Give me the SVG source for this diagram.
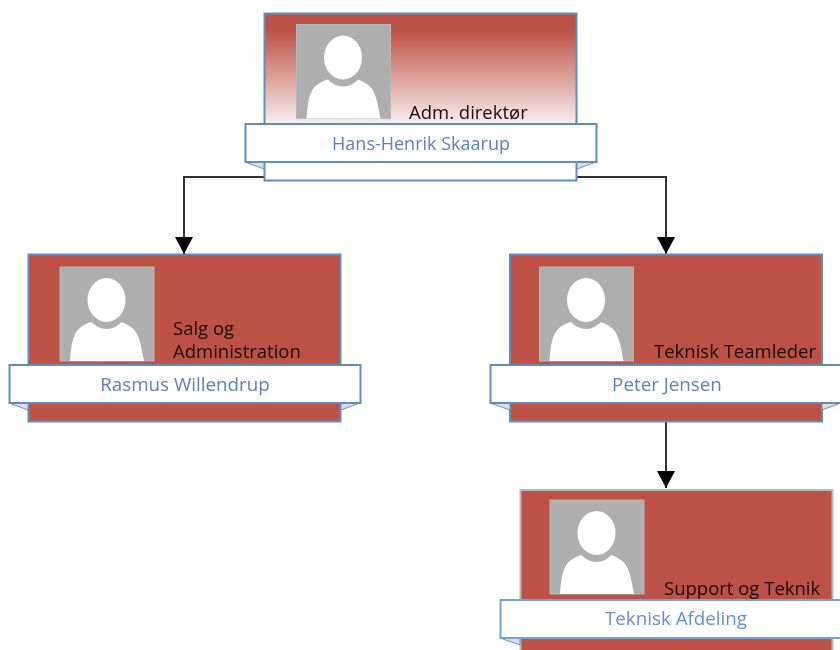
<svg xmlns="http://www.w3.org/2000/svg" xmlns:xlink="http://www.w3.org/1999/xlink" width="840" height="650" viewBox="0 0 840 650">
<style>
.card{fill:#bd5145;stroke:#5b8fc0;stroke-width:2}
.band{fill:#fff;stroke:#5b8fc0;stroke-width:2}
.fold{fill:#d8dee6;stroke:#6f92b5;stroke-width:1}
.role{font-family:"Open Sans","Noto Sans",sans-serif;font-size:18.500px;fill:#1a0a0a}
.name{font-family:"Open Sans","Noto Sans",sans-serif;font-size:18.800px;fill:#5b82bd;text-anchor:middle}
.conn{fill:none;stroke:#333;stroke-width:2}
.ph{fill:#aeaeae;stroke:#b8b8b8;stroke-width:1}
.soft{filter:url(#b)}
</style>
<defs>
<linearGradient id="fade" x1="0" y1="0" x2="0" y2="1">
<stop offset="0" stop-color="#bd5145"/><stop offset="0.1" stop-color="#bd5145"/><stop offset="0.72" stop-color="#fff"/><stop offset="1" stop-color="#fff"/>
</linearGradient>
<marker id="arrow" markerUnits="userSpaceOnUse" markerWidth="18" markerHeight="18" refX="17" refY="9" orient="auto">
<path d="M0,0L17,9L0,18Z" fill="#000"/>
</marker>
<filter id="b" x="-5%" y="-5%" width="110%" height="110%"><feGaussianBlur stdDeviation="0.55"/></filter>
<g id="photo">
<rect class="ph" x="0" y="0" width="94" height="94"/>
<path d="M10,94C11,78 13,65 21,60C28,55 36,53 46,53C56,53 64,55 71,60C79,65 81,78 84,94Z" fill="#fff"/>
<ellipse cx="46.500" cy="35" rx="22.500" ry="27" fill="#aeaeae"/>
<ellipse cx="46.500" cy="33" rx="19" ry="22" fill="#fff"/>
</g>
</defs>

<g id="connectors" class="soft">
<path class="conn" d="M264,177H184V254" marker-end="url(#arrow)"/>
<path class="conn" d="M577,177H666V254" marker-end="url(#arrow)"/>
<path class="conn" d="M666,422V488" marker-end="url(#arrow)"/>
</g>

<g id="node-hans" class="soft">
<rect x="264.500" y="13.500" width="312" height="167" fill="url(#fade)" stroke="#5b8fc0" stroke-width="2"/>
<use href="#photo" x="296.500" y="24.500"/>
<path class="fold" d="M245,162L264,169V162Z"/><path class="fold" d="M596,162L577,169V162Z"/>
<text class="role" x="409" y="119">Adm. direktør</text>
<rect class="band" x="245.500" y="124" width="351" height="38"/>
<text class="name" x="421" y="150" style="font-size:18px">Hans-Henrik Skaarup</text>
</g>

<g id="node-rasmus" class="soft">
<rect class="card" x="28.500" y="254.500" width="312" height="167"/>
<use href="#photo" x="60" y="267"/>
<path class="fold" d="M9,403L28,410V403Z"/><path class="fold" d="M360,403L341,410V403Z"/>
<text class="role" x="173" y="335">Salg og</text>
<text class="role" x="173" y="358">Administration</text>
<rect class="band" x="9.500" y="365" width="351" height="38"/>
<text class="name" x="185" y="391">Rasmus Willendrup</text>
</g>

<g id="node-peter" class="soft">
<rect class="card" x="510" y="254.500" width="312" height="167"/>
<use href="#photo" x="539.500" y="267"/>
<path class="fold" d="M490,403L510,410V403Z"/><path class="fold" d="M841,403L822,410V403Z"/>
<text class="role" x="654" y="358">Teknisk Teamleder</text>
<rect class="band" x="490.500" y="365" width="351" height="38"/>
<text class="name" x="667" y="391">Peter Jensen</text>
</g>

<g id="node-teknisk" class="soft">
<rect x="520.500" y="490" width="312" height="170" fill="#bd5145" stroke="#b9b9b9" stroke-width="2"/>
<use href="#photo" x="550" y="500"/>
<path class="fold" d="M500,638L520,645V638Z"/>
<text class="role" x="664" y="595">Support og Teknik</text>
<rect x="500.500" y="600" width="351" height="38" fill="#fff" stroke="#6ea6dc" stroke-width="2"/>
<text class="name" x="676" y="625" style="fill:#5f93d0">Teknisk Afdeling</text>
</g>
</svg>
